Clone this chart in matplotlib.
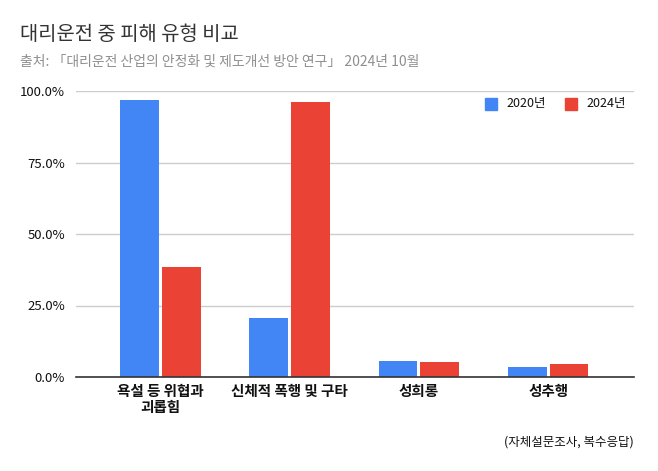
import numpy as np
import matplotlib.pyplot as plt
from matplotlib.patches import Rectangle

plt.rcParams['font.family'] = ['Noto Sans CJK KR', 'DejaVu Sans']

categories = ['욕설 등 위협과\n괴롭힘', '신체적 폭행 및 구타', '성희롱', '성추행']
series_names = ['2020년', '2024년']
values_2020 = [96.9, 20.7, 5.6, 3.6]
values_2024 = [38.5, 96.2, 5.1, 4.4]
yticks = [0, 25, 50, 75, 100]
ytick_labels = ['0.0%', '25.0%', '50.0%', '75.0%', '100.0%']

blue = '#4285F4'
red = '#EA4335'

W, H = 658, 471
fig = plt.figure(figsize=(W/100, H/100), dpi=100)
ax = fig.add_axes([76/W, (H-377)/H, 558/W, 286/H])

x = np.arange(len(categories))
width = 0.30
off = 0.162
ax.bar(x - off, values_2020, width, color=blue, zorder=3)
ax.bar(x + off, values_2024, width, color=red, zorder=3)

ax.set_xlim(-0.655, 3.665)
ax.set_ylim(0, 100)
ax.set_yticks(yticks)
ax.set_yticklabels(ytick_labels, fontsize=9.5, color='#111111')
ax.yaxis.grid(True, color='#cccccc', linewidth=1, zorder=0)
ax.tick_params(axis='y', length=0, pad=8)
ax.set_xticks(x)
ax.set_xticklabels(categories, fontsize=10.5, fontweight='bold', color='#111111',
                   linespacing=1.05)
ax.tick_params(axis='x', length=0, pad=4)
for s in ['top', 'right', 'left']:
    ax.spines[s].set_visible(False)
ax.spines['bottom'].set_color('#333333')
ax.spines['bottom'].set_linewidth(1.2)
ax.spines['bottom'].set_zorder(4)

fig.text(20/W, 1 - 35/H, '대리운전 중 피해 유형 비교', fontsize=14.3,
         color='#333333', va='center', ha='left')
fig.text(20/W, 1 - 62/H, '출처: 「대리운전 산업의 안정화 및 제도개선 방안 연구」 2024년 10월',
         fontsize=10, color='#8f8f8f', va='center', ha='left')
fig.text(634/W, 1 - 442/H, '(자체설문조사, 복수응답)', fontsize=9,
         color='#111111', va='center', ha='right')

# legend
for xs, col, name in [(485, blue, series_names[0]), (565, red, series_names[1])]:
    fig.patches.append(Rectangle((xs/W, 1 - 110/H), 12/W, 12/H, color=col,
                                 transform=fig.transFigure))
    fig.text((xs + 21)/W, 1 - 104/H, name, fontsize=9, color='#111111',
             va='center', ha='left')

fig.savefig('out.png', dpi=100)
